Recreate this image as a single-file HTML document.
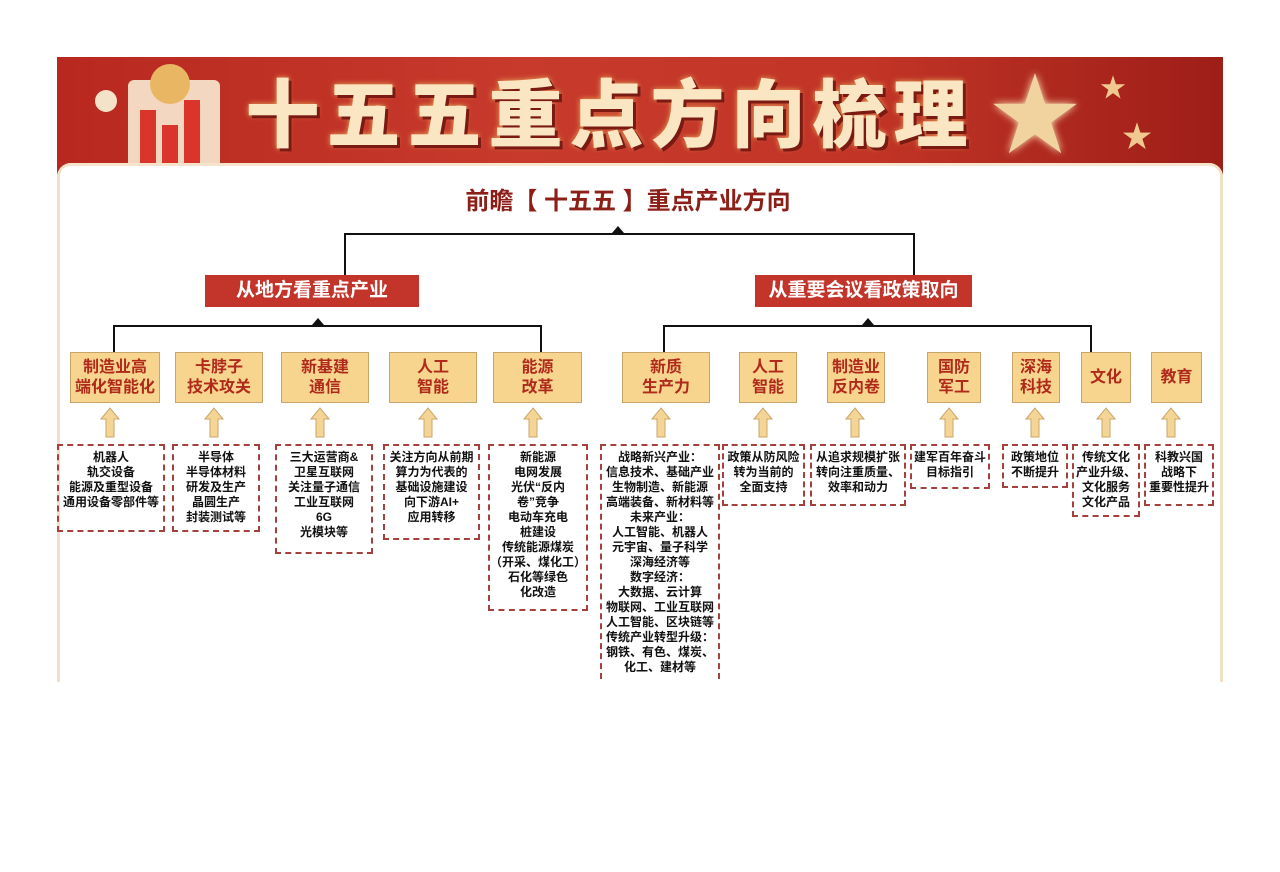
<!DOCTYPE html>
<html><head><meta charset="utf-8"><style>
body{margin:0;width:1280px;height:872px;background:#fff;position:relative;overflow:hidden;font-family:"Liberation Sans","Noto Sans CJK SC",sans-serif}
.a{position:absolute}
.banner{left:57px;top:57px;width:1166px;height:118px;background:linear-gradient(90deg,#b8281f 0%,#c73a2c 40%,#c13426 70%,#9e1e18 100%)}
.title{left:57px;top:70px;width:1106px;text-align:center;font-size:74px;line-height:80px;font-weight:900;color:#fbe6c4;letter-spacing:7px;text-shadow:3px 3px 0 #7a1a12,0 0 6px #e8b060;font-family:"Noto Sans CJK SC",sans-serif}
.panel{left:57px;top:163px;width:1166px;height:519px;background:#fff;border-radius:14px 14px 0 0;box-shadow:inset 3px 0 0 #f3dfc4,inset -3px 0 0 #f3dfc4,inset 0 3px 0 #f6e4cc}
.sub{left:57px;top:181px;width:1142px;text-align:center;font-size:24px;font-weight:bold;color:#8c1f17}
.l{background:#111}
.red{background:#c3352b;color:#fff;font-size:19px;font-weight:bold;text-align:center;line-height:32px;height:32px}
.cat{background:#f8d58e;border:1.5px solid #c6a46a;color:#b02a1c;font-size:16px;font-weight:bold;text-align:center;display:flex;align-items:center;justify-content:center;line-height:20px;top:352px;box-sizing:border-box;height:51px}
.d{border:2.5px dashed #a5413c;top:444px;box-sizing:border-box;font-size:12px;font-weight:bold;text-align:center;line-height:15px;color:#111;padding-top:4px;white-space:nowrap;overflow:hidden}
.tri{width:0;height:0;border-left:6px solid transparent;border-right:6px solid transparent;border-bottom:7px solid #111}
</style></head><body>
<div class="a banner"></div>
<div class="a" style="left:95px;top:90px;width:22px;height:22px;border-radius:50%;background:#f4e3c8"></div>
<div class="a" style="left:128px;top:80px;width:92px;height:90px;background:#f3d7c0;border-radius:6px"></div>
<div class="a" style="left:140px;top:110px;width:16px;height:55px;background:#d9352a"></div>
<div class="a" style="left:162px;top:125px;width:16px;height:40px;background:#d9352a"></div>
<div class="a" style="left:184px;top:100px;width:16px;height:65px;background:#d9352a"></div>
<div class="a" style="left:150px;top:64px;width:40px;height:40px;border-radius:50%;background:#e9b763"></div>
<div class="a" style="left:990px;top:72px;font-size:90px;line-height:90px;color:#f1d3a0;text-shadow:0 0 8px #fff3c0">★</div>
<div class="a" style="left:1100px;top:68px;font-size:26px;color:#f1c890">★</div>
<div class="a" style="left:1122px;top:112px;font-size:30px;color:#f1c890">★</div>
<div class="a title">十五五重点方向梳理</div>
<div class="a panel"></div>
<div class="a sub">前瞻【 十五五 】重点产业方向</div>

<div class="a l" style="left:345px;top:233px;width:570px;height:2px"></div>
<div class="a tri" style="left:612px;top:226px"></div>
<div class="a l" style="left:344px;top:233px;width:2px;height:42px"></div>
<div class="a l" style="left:913px;top:233px;width:2px;height:42px"></div>
<div class="a red" style="left:205px;top:275px;width:214px">从地方看重点产业</div>
<div class="a red" style="left:755px;top:275px;width:217px">从重要会议看政策取向</div>

<div class="a l" style="left:114px;top:325px;width:428px;height:2px"></div>
<div class="a tri" style="left:312px;top:318px"></div>
<div class="a l" style="left:113px;top:325px;width:2px;height:27px"></div>
<div class="a l" style="left:540px;top:325px;width:2px;height:27px"></div>
<div class="a l" style="left:664px;top:325px;width:428px;height:2px"></div>
<div class="a tri" style="left:862px;top:318px"></div>
<div class="a l" style="left:663px;top:325px;width:2px;height:27px"></div>
<div class="a l" style="left:1090px;top:325px;width:2px;height:27px"></div>

<div class="a cat" style="left:70px;width:90px">制造业高<br>端化智能化</div>
<div class="a cat" style="left:175px;width:88px">卡脖子<br>技术攻关</div>
<div class="a cat" style="left:281px;width:88px">新基建<br>通信</div>
<div class="a cat" style="left:389px;width:88px">人工<br>智能</div>
<div class="a cat" style="left:493px;width:89px">能源<br>改革</div>
<div class="a cat" style="left:622px;width:88px">新质<br>生产力</div>
<div class="a cat" style="left:739px;width:58px">人工<br>智能</div>
<div class="a cat" style="left:827px;width:58px">制造业<br>反内卷</div>
<div class="a cat" style="left:927px;width:54px">国防<br>军工</div>
<div class="a cat" style="left:1012px;width:48px">深海<br>科技</div>
<div class="a cat" style="left:1081px;width:50px">文化</div>
<div class="a cat" style="left:1151px;width:51px">教育</div>

<svg class="a" style="left:0;top:0" width="1280" height="872">
<defs><polygon id="ar" points="0,11 9,0 18,11 13,11 13,29 5,29 5,11" fill="#f5d595" stroke="#c9a66a" stroke-width="1"/></defs>
<use href="#ar" x="101" y="408"/><use href="#ar" x="205" y="408"/><use href="#ar" x="311" y="408"/><use href="#ar" x="419" y="408"/><use href="#ar" x="524" y="408"/>
<use href="#ar" x="652" y="408"/><use href="#ar" x="754" y="408"/><use href="#ar" x="846" y="408"/><use href="#ar" x="940" y="408"/><use href="#ar" x="1026" y="408"/><use href="#ar" x="1097" y="408"/><use href="#ar" x="1162" y="408"/>
</svg>

<div class="a d" style="left:57px;width:108px;height:88px">机器人<br>轨交设备<br>能源及重型设备<br>通用设备零部件等</div>
<div class="a d" style="left:172px;width:88px;height:88px">半导体<br>半导体材料<br>研发及生产<br>晶圆生产<br>封装测试等</div>
<div class="a d" style="left:275px;width:98px;height:110px">三大运营商&amp;<br>卫星互联网<br>关注量子通信<br>工业互联网<br>6G<br>光模块等</div>
<div class="a d" style="left:383px;width:97px;height:96px">关注方向从前期<br>算力为代表的<br>基础设施建设<br>向下游AI+<br>应用转移</div>
<div class="a d" style="left:488px;width:100px;height:167px">新能源<br>电网发展<br>光伏“反内<br>卷”竞争<br>电动车充电<br>桩建设<br>传统能源煤炭<br>（开采、煤化工）<br>石化等绿色<br>化改造</div>
<div class="a d" style="left:600px;width:120px;height:245px">战略新兴产业：<br>信息技术、基础产业<br>生物制造、新能源<br>高端装备、新材料等<br>未来产业：<br>人工智能、机器人<br>元宇宙、量子科学<br>深海经济等<br>数字经济：<br>大数据、云计算<br>物联网、工业互联网<br>人工智能、区块链等<br>传统产业转型升级：<br>钢铁、有色、煤炭、<br>化工、建材等</div>
<div class="a d" style="left:722px;width:83px;height:62px">政策从防风险<br>转为当前的<br>全面支持</div>
<div class="a d" style="left:810px;width:96px;height:62px">从追求规模扩张<br>转向注重质量、<br>效率和动力</div>
<div class="a d" style="left:910px;width:80px;height:45px">建军百年奋斗<br>目标指引</div>
<div class="a d" style="left:1002px;width:66px;height:44px">政策地位<br>不断提升</div>
<div class="a d" style="left:1072px;width:68px;height:73px">传统文化<br>产业升级、<br>文化服务<br>文化产品</div>
<div class="a d" style="left:1144px;width:70px;height:62px">科教兴国<br>战略下<br>重要性提升</div>
<div class="a" style="left:0;top:682px;width:1280px;height:190px;background:#fff"></div>
</body></html>
